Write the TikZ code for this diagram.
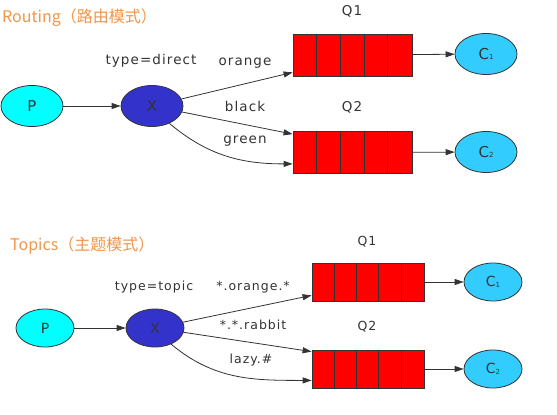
\documentclass[tikz,border=0pt]{standalone}
\usepackage{fontspec}
\setmainfont{DejaVu Sans}
\newfontfamily\lblfont[LetterSpace=8]{DejaVu Sans}
\newfontfamily\cjkfont{Noto Sans CJK SC}
\usetikzlibrary{shapes.geometric,arrows.meta,positioning}
\definecolor{titleorange}{RGB}{240,150,75}
\definecolor{inkgray}{RGB}{51,51,51}
\definecolor{prodcyan}{RGB}{0,255,255}
\definecolor{exchblue}{RGB}{51,51,204}
\definecolor{conscyan}{RGB}{51,204,255}
\newcommand{\sub}[1]{\raisebox{-0.5pt}{\fontsize{7}{7}\selectfont #1}}

\begin{document}
\begin{tikzpicture}[x=1pt, y=-1pt,
    every node/.style={text=inkgray},
    title/.style={font=\cjkfont\fontsize{16}{19}\selectfont, text=titleorange, anchor=west, inner sep=0pt},
    lbl/.style={font=\lblfont\fontsize{13.5}{16}\selectfont},
    slbl/.style={font=\lblfont\fontsize{12.5}{15}\selectfont},
    blob/.style={ellipse, draw=inkgray, line width=0.8pt, inner sep=0pt, minimum width=62pt, minimum height=41pt, font=\fontsize{15}{15}\selectfont},
    small/.style={minimum width=58pt, minimum height=38pt, font=\fontsize{14}{14}\selectfont},
    prod/.style={blob, fill=prodcyan},
    exch/.style={blob, fill=exchblue},
    cons/.style={blob, fill=conscyan},
    queue/.style={rectangle, draw=inkgray, fill=red, line width=0.8pt, minimum width=119pt, minimum height=42pt, inner sep=0pt},
    cell/.style={draw=inkgray, line width=0.8pt},
    link/.style={draw=inkgray, line width=0.8pt, -{Triangle[length=9pt,width=6pt]}}]
    \useasboundingbox[fill=white] (0,0) rectangle (557,415);

    % Routing
    \node[title] (t1) at (2,18) {Routing（路由模式）};
    \node[prod] (p1) at (32,106) {P};
    \node[exch] (x1) at (152,106) {X};
    \node[queue] (q1) at (352.5,55) {};
    \node[queue] (q2) at (352.5,152.5) {};
    \node[cons] (c1) at (486,54) {C\sub{1}};
    \node[cons] (c2) at (486,152) {C\sub{2}};
    \foreach \q in {q1,q2}
        \foreach \i in {1,...,4}
            \draw[cell] ([xshift=\i*23.8pt]\q.north west) -- ([xshift=\i*23.8pt]\q.south west);
    \node[lbl] (l1) at (151,61) {type=direct};
    \node[lbl] (n1) at (352,11) {Q1};
    \node[lbl] (n2) at (352,107) {Q2};
    \node[lbl] (k1) at (245,63) {orange};
    \node[lbl] (k2) at (245,106) {black};
    \node[lbl] (k3) at (245,141) {green};
    \draw[link] (p1) -- (x1);
    \draw[link] (x1) -- ([yshift=4pt]q1.south west);
    \draw[link] (x1) -- ([yshift=-3pt]q2.north west);
    \draw[link] (x1.-45) to[out=-40, in=180] ([yshift=10pt]q2.south west);
    \draw[link] (q1) -- (c1);
    \draw[link] (q2) -- (c2);

    % Topics
    \node[title] (t2) at (10,245) {Topics（主题模式）};
    \node[prod, small] (p2) at (45,328) {P};
    \node[exch, small] (x2) at (155,328) {X};
    \node[queue, minimum width=112pt, minimum height=38pt] (q3) at (368,282) {};
    \node[queue, minimum width=112pt, minimum height=38pt] (q4) at (368,369) {};
    \node[cons, small] (c3) at (493,282) {C\sub{1}};
    \node[cons, small] (c4) at (493,369) {C\sub{2}};
    \foreach \q in {q3,q4}
        \foreach \i in {1,...,4}
            \draw[cell] ([xshift=\i*22.4pt]\q.north west) -- ([xshift=\i*22.4pt]\q.south west);
    \node[slbl] (l2) at (154,287) {type=topic};
    \node[slbl] (n3) at (367,242) {Q1};
    \node[slbl] (n4) at (367,327) {Q2};
    \node[slbl] (k4) at (253,287) {*.orange.*};
    \node[slbl] (k5) at (253,325) {*.*.rabbit};
    \node[slbl] (k6) at (251,360) {lazy.\#};
    \draw[link] (p2) -- (x2);
    \draw[link] (x2) -- ([yshift=6pt]q3.south west);
    \draw[link] (x2) -- ([yshift=-2pt]q4.north west);
    \draw[link] (x2.-45) to[out=-40, in=180] ([yshift=8pt]q4.south west);
    \draw[link] (q3) -- (c3);
    \draw[link] (q4) -- (c4);
\end{tikzpicture}
\end{document}
